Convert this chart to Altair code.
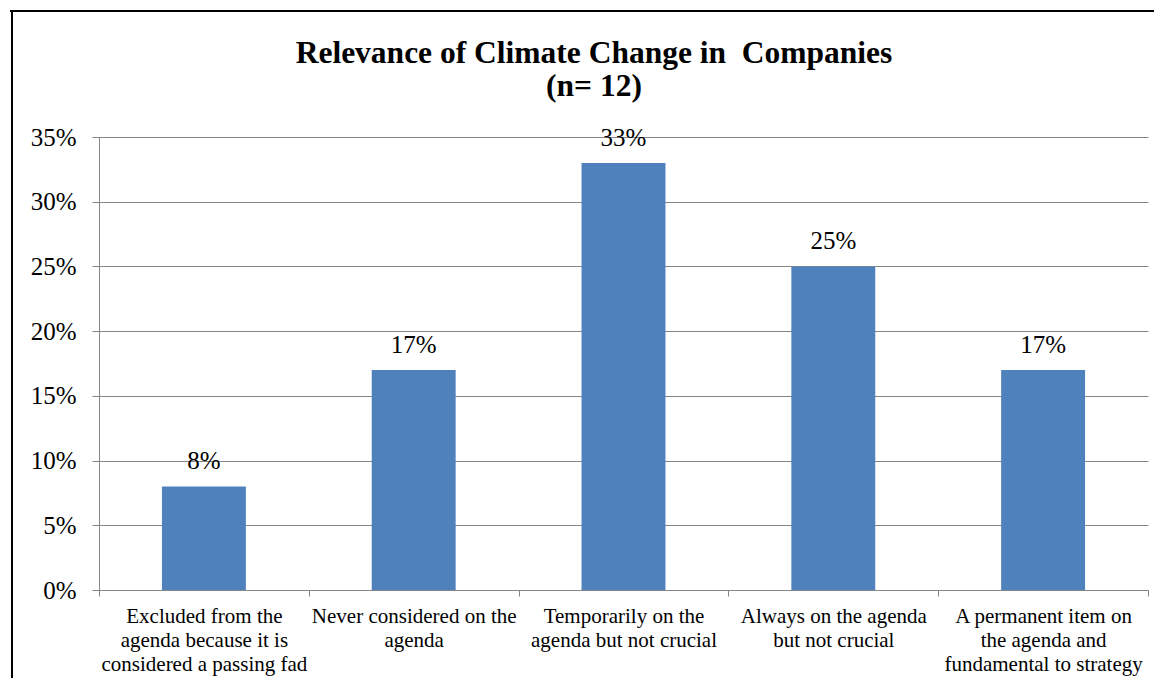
import altair as alt
import pandas as pd

categories = [
    "Excluded from the|agenda because it is|considered a passing fad",
    "Never considered on the|agenda",
    "Temporarily on the|agenda but not crucial",
    "Always on the agenda|but not crucial",
    "A permanent item on|the agenda and|fundamental to strategy",
]
values = [0.08, 0.17, 0.33, 0.25, 0.17]
value_labels = ["8%", "17%", "33%", "25%", "17%"]
y_ticks = [0, 0.05, 0.10, 0.15, 0.20, 0.25, 0.30, 0.35]
title_lines = ["Relevance of Climate Change in\u00a0 Companies", "(n= 12)"]

df = pd.DataFrame({"category": categories, "value": values, "label": value_labels})
one = pd.DataFrame({"k": [0]})

W, H = 1049, 453
FONT = "Liberation Serif"
GRAY = "#868686"
BLUE = "#4F81BD"

x_enc = alt.X(
    "category:N",
    sort=None,
    scale=alt.Scale(paddingInner=0, paddingOuter=0),
    axis=alt.Axis(
        title=None,
        labelAngle=0,
        labelExpr="split(datum.label, '|')",
        labelFont=FONT,
        labelFontSize=21,
        labelLineHeight=24,
        labelColor="black",
        labelPadding=9,
        labelBaseline="top",
        labelLimit=0,
        tickBand="extent",
        tickSize=6,
        tickColor=GRAY,
        domainColor=GRAY,
        grid=False,
    ),
)
y_enc = alt.Y(
    "value:Q",
    scale=alt.Scale(domain=[0, 0.35], nice=False),
    axis=alt.Axis(
        title=None,
        values=y_ticks,
        format=".0%",
        labelFont=FONT,
        labelFontSize=25,
        labelColor="black",
        labelPadding=16,
        tickSize=7,
        tickColor=GRAY,
        domainColor=GRAY,
        grid=True,
        gridColor=GRAY,
        gridWidth=1.2,
    ),
)

base = alt.Chart(df)
bars = base.mark_bar(color=BLUE, width=alt.RelativeBandSize(0.4)).encode(x=x_enc, y=y_enc)
labels = base.mark_text(
    font=FONT, fontSize=25, color="black", baseline="alphabetic", dy=-17
).encode(x=alt.X("category:N", sort=None), y=alt.Y("value:Q"), text="label:N")

title = alt.Chart(one).mark_text(
    text=title_lines,
    font=FONT,
    fontWeight="bold",
    fontSize=31.5,
    lineHeight=33,
    baseline="alphabetic",
    align="center",
    color="black",
).encode(x=alt.value(495), y=alt.value(-74))

border_top = alt.Chart(one).mark_rule(color="black", strokeWidth=2).encode(
    x=alt.value(-89), x2=alt.value(W + 6), y=alt.value(-126)
)
border_left = alt.Chart(one).mark_rule(color="black", strokeWidth=2).encode(
    x=alt.value(-87), y=alt.value(-127), y2=alt.value(H + 88)
)

chart = (
    alt.layer(border_top, border_left, bars, labels, title)
    .properties(
        width=W,
        height=H,
        autosize=alt.AutoSizeParams(type="none"),
        padding={"left": 91, "top": 129, "right": 6, "bottom": 88},
    )
    .configure(font=FONT, background="white")
    .configure_view(stroke=None)
)

chart.save("out.html", embed_options={"renderer": "svg", "actions": False})
